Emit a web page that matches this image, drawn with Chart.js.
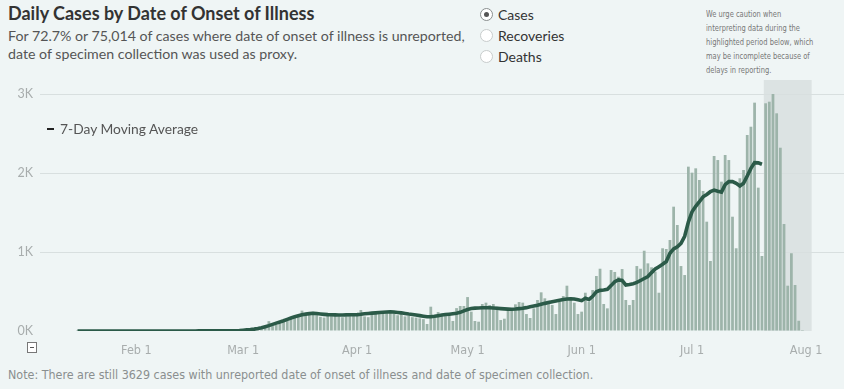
<!DOCTYPE html>
<html>
<head>
<meta charset="utf-8">
<script src="https://cdn.jsdelivr.net/npm/chart.js@4.4.0/dist/chart.umd.min.js"></script>
<style>
  body { margin: 0; width: 844px; height: 389px; overflow: hidden; position: relative;
         background: #eff5f5; font-family: Lato, "Open Sans", sans-serif; }
  .abs { position: absolute; white-space: nowrap; }
  #title { left: 8px; top: 2px; font-size: 18px; font-weight: 700; color: #333; }
  #sub { left: 8px; top: 27px; font-size: 14.2px; line-height: 18px; color: #555; }
  .radio { left: 480px; font-size: 14px; color: #333; }
  .radio span { display: inline-block; width: 11px; height: 11px; border-radius: 50%;
                border: 1px solid #c8cccc; background: #fff; vertical-align: -1px; margin-right: 5px; position: relative; }
  .radio span.on { border-color: #8a8f8f; }
  .radio span.on::after { content: ""; position: absolute; left: 3px; top: 3px; width: 5px; height: 5px;
                          border-radius: 50%; background: #555; }
  #caution { left: 706px; top: 7px; font-size: 9px; line-height: 14px; color: #777;
             transform: scaleX(0.83); transform-origin: left top;
             font-family: "Liberation Sans Narrow", "DejaVu Sans Condensed", sans-serif; }
  #legend { left: 47px; top: 120px; font-size: 13.8px; color: #555; }
  #legend b { display: inline-block; width: 7px; height: 2px; background: #222; vertical-align: 4px; margin-right: 6px; }
  #box { left: 27px; top: 342px; width: 8px; height: 9px; border: 1px solid #777; background: #fff; }
  #box::after { content: ""; position: absolute; left: 2px; top: 4px; width: 4px; height: 1px; background: #555; }
  #note { left: 8px; top: 367px; font-size: 12.4px; color: #8a8f8f;
          font-family: "Liberation Sans Narrow", "DejaVu Sans Condensed", sans-serif; }
  #wrap { position: absolute; left: 0; top: 80px; width: 844px; height: 280px; }
</style>
</head>
<body>
<div id="title" class="abs">Daily Cases by Date of Onset of Illness</div>
<div id="sub" class="abs">For 72.7% or 75,014 of cases where date of onset of illness is unreported,<br>date of specimen collection was used as proxy.</div>
<div class="abs radio" style="top:6px"><span class="on"></span>Cases</div>
<div class="abs radio" style="top:27px"><span></span>Recoveries</div>
<div class="abs radio" style="top:48px"><span></span>Deaths</div>
<div id="caution" class="abs">We urge caution when<br>interpreting data during the<br>highlighted period below, which<br>may be incomplete because of<br>delays in reporting.</div>
<div id="wrap"><canvas id="chart"></canvas></div>
<div id="legend" class="abs"><b></b>7-Day Moving Average</div>
<div id="box" class="abs"></div>
<div id="note" class="abs">Note: There are still 3629 cases with unreported date of onset of illness and date of specimen collection.</div>

<script>
// day numbers count from Jan 1, 2020 (= 0); first value is Jan 16
const firstDay = 15;

const dailyCases = [
  // Jan 16-31
  1, 0, 0, 1, 0, 1, 0, 0, 1, 0, 0, 1, 0, 1, 0, 0,
  // Feb
  0, 1, 0, 0, 1, 0, 0, 1, 0, 0, 1, 0, 0, 1, 0, 1, 0, 0, 1, 1, 0, 1, 2, 1, 2, 3, 5, 8, 12,
  // Mar
  15, 18, 22, 26, 32, 40, 55, 125, 62, 78, 95, 112, 135, 155, 190, 195, 258, 205, 220, 245,
  210, 180, 170, 195, 205, 190, 185, 175, 180, 190, 200,
  // Apr
  205, 266, 185, 175, 225, 235, 215, 240, 245, 250, 230, 200, 215, 185, 190, 175, 170, 160, 150, 89,
  308, 185, 240, 195, 190, 200, 127, 290, 317, 317,
  // May
  430, 245, 127, 118, 342, 359, 329, 342, 308, 139, 156, 287, 287, 338, 367, 359, 215, 165, 287, 393,
  490, 414, 384, 329, 215, 371, 443, 574, 427, 359, 215,
  // Jun
  245, 485, 371, 519, 697, 789, 342, 287, 773, 748, 688, 785, 393, 329, 393, 823, 789, 1017, 857, 807,
  752, 485, 1048, 1039, 1153, 1575, 1343, 823, 709, 2082,
  // Jul
  2006, 2061, 1913, 1774, 1385, 887, 2217, 2166, 1892, 2230, 2166, 1448, 1048, 1935, 2040, 2483, 2588, 2893, 1816, 950,
  2885, 2905, 3003, 2758, 2322, 1356, 574, 985, 583, 130, 12
];

const movingAverage = [
  // Jan 16-31
  0, 0, 0, 0, 0, 0, 0, 0, 0, 0, 0, 0, 0, 0, 0, 0,
  // Feb
  0, 0, 0, 0, 0, 0, 0, 0, 0, 0, 0, 0, 0, 0, 0, 0, 0, 1, 1, 1, 1, 1, 1, 1, 1, 2, 3, 4, 6,
  // Mar
  10, 14, 18, 24, 32, 42, 55, 68, 84, 100, 115, 130, 148, 165, 180, 193, 205, 214, 220, 224,
  222, 216, 211, 207, 205, 204, 203, 203, 204, 205, 206,
  // Apr
  208, 212, 218, 222, 226, 230, 234, 238, 241, 243, 240, 235, 230, 222, 215, 210, 203, 195, 187, 180,
  180, 186, 194, 202, 208, 213, 219, 226, 236, 255,
  // May
  272, 284, 290, 292, 294, 295, 295, 292, 288, 284, 280, 277, 275, 278, 283, 288, 296, 306, 316, 326,
  338, 350, 360, 371, 380, 390, 398, 405, 407, 405, 395,
  // Jun
  384, 414, 400, 440, 498, 515, 519, 528, 575, 625, 648, 640, 583, 590, 600, 615, 640, 665, 690, 740,
  785, 815, 845, 880, 985, 1040, 1068, 1111, 1200, 1380,
  // Jul 1-20
  1510, 1580, 1638, 1700, 1730, 1765, 1785, 1770, 1760, 1855, 1892, 1892, 1870, 1837, 1871, 1964, 2060, 2133, 2130, 2112
];

const monthTickDays = [31, 60, 91, 121, 152, 182, 213];
const monthTickLabels = ["Feb 1", "Mar 1", "Apr 1", "May 1", "Jun 1", "Jul 1", "Aug 1"];
const yTickValues = [0, 1000, 2000, 3000];
const yTickLabels = ["0K", "1K", "2K", "3K"];

// highlighted (possibly incomplete) period: Jul 21 - Aug 2
const highlightFrom = 202;
const highlightTo = 214;

const barPoints = dailyCases.map((v, i) => ({ x: firstDay + i, y: v }));
const linePoints = movingAverage.map((v, i) => ({ x: firstDay + i, y: v }));

const highlightBand = {
  id: "highlightBand",
  beforeDraw(chart) {
    const { ctx, chartArea, scales } = chart;
    const left = scales.x.getPixelForValue(highlightFrom - 0.5);
    const right = scales.x.getPixelForValue(highlightTo + 0.5);
    ctx.save();
    ctx.fillStyle = "#dce3e3";
    ctx.fillRect(left, chartArea.top, right - left, scales.y.getPixelForValue(0) - chartArea.top);
    ctx.restore();
  }
};

new Chart(document.getElementById("chart"), {
  type: "bar",
  data: {
    datasets: [
      {
        type: "line",
        data: linePoints,
        borderColor: "#2b5a48",
        borderWidth: 3.6,
        pointRadius: 0,
        tension: 0,
        order: 0
      },
      {
        data: barPoints,
        backgroundColor: "#9db4aa",
        barPercentage: 0.75,
        categoryPercentage: 1,
        order: 1
      }
    ]
  },
  options: {
    responsive: true,
    maintainAspectRatio: false,
    animation: false,
    layout: { padding: 0 },
    plugins: { legend: { display: false }, tooltip: { enabled: false } },
    scales: {
      x: {
        type: "linear",
        min: 4.8,
        max: 223.3,
        offset: false,
        grid: { display: false, offset: false },
        border: { display: false },
        afterBuildTicks: (s) => { s.ticks = monthTickDays.map((v) => ({ value: v })); },
        afterFit: (s) => { s.height = 29; s.paddingLeft = 0; s.paddingRight = 0; },
        ticks: {
          autoSkip: false,
          maxRotation: 0,
          padding: 4,
          color: "#a8adad",
          font: { family: "'Liberation Sans Narrow', 'DejaVu Sans Condensed', sans-serif", size: 12.5 },
          callback: (v) => monthTickLabels[monthTickDays.indexOf(v)]
        }
      },
      y: {
        min: 0,
        max: 3180,
        grid: {
          drawTicks: false,
          color: (c) => (c.tick && c.tick.value === 0 ? "rgba(0,0,0,0)" : "#d8dfdf")
        },
        border: { display: false },
        afterBuildTicks: (s) => { s.ticks = yTickValues.map((v) => ({ value: v })); },
        afterFit: (s) => { s.width = 40; s.paddingTop = 0; s.paddingBottom = 0; },
        ticks: {
          padding: 7,
          color: "#a8adad",
          font: { family: "Lato, sans-serif", size: 12.5 },
          callback: (v) => yTickLabels[yTickValues.indexOf(v)]
        }
      }
    }
  },
  plugins: [highlightBand]
});
</script>
</body>
</html>
